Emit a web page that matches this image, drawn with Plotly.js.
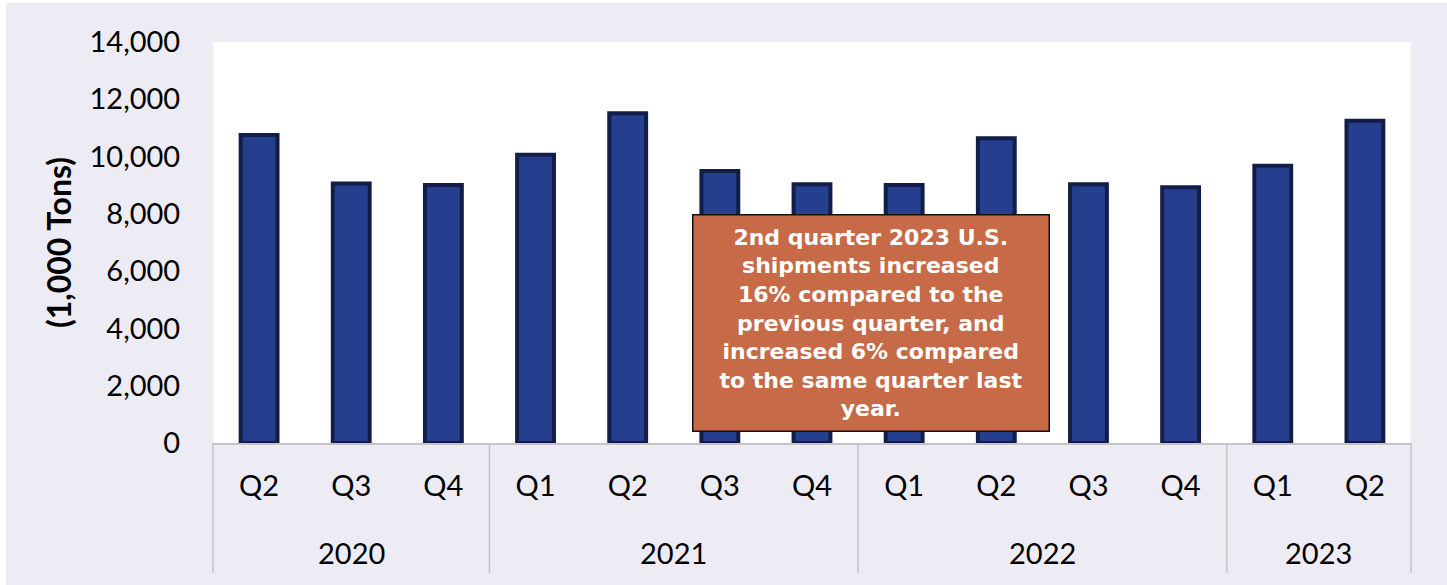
<!DOCTYPE html>
<html>
<head>
<meta charset="utf-8">
<script src="https://cdn.plot.ly/plotly-3.0.1.min.js"></script>
<style>
  html, body { margin: 0; padding: 0; background: #ffffff; }
  #chart { width: 1447px; height: 585px; }
</style>
</head>
<body>
<div id="chart"></div>
<script>
const years = ['2020','2020','2020','2021','2021','2021','2021','2022','2022','2022','2022','2023','2023'];
const quarters = ['Q2','Q3','Q4','Q1','Q2','Q3','Q4','Q1','Q2','Q3','Q4','Q1','Q2'];
const shipments = [10750, 9060, 9010, 10060, 11510, 9500, 9030, 9010, 10640, 9030, 8930, 9680, 11250];
const yTickVals = [0, 2000, 4000, 6000, 8000, 10000, 12000, 14000];
const yTickText = ['0','2,000','4,000','6,000','8,000','10,000','12,000','14,000'];
const noteText = '2nd quarter 2023 U.S.<br>shipments increased<br>16% compared to the<br>previous quarter, and<br>increased 6% compared<br>to the same quarter last<br>year.';

// positions and year groups derived from the category list
const n = years.length;
const idx = years.map((_, i) => i);
const groups = [];
years.forEach((y, i) => {
  if (!groups.length || groups[groups.length-1].year !== y) groups.push({year: y, start: i, end: i});
  else groups[groups.length-1].end = i;
});
const bounds = [0].concat(groups.map(g => (g.end + 1) / n));

const font = 'Lato, "Open Sans", sans-serif';
const shapes = [
  {type:'rect', xref:'paper', yref:'paper', x0:-0.19, x1:-0.1728, y0:-0.4, y1:1.12, fillcolor:'#ffffff', line:{width:0}, layer:'below'},
  {type:'rect', xref:'paper', yref:'paper', x0:-0.19, x1:1.05, y0:1.0973, y1:1.12, fillcolor:'#ffffff', line:{width:0}, layer:'below'}
];
bounds.forEach(b => shapes.push({
  type:'line', xref:'paper', yref:'paper', x0:b, x1:b, y0:0, y1:-0.324,
  line:{color:'#c4c4c4', width:1.5}
}));

const annotations = groups.map(g => ({
  xref:'x', yref:'paper', x:(g.start + g.end) / 2, y:-0.272,
  xanchor:'center', yanchor:'middle', showarrow:false, text:g.year,
  font:{size:29, family:font, color:'#000'}
}));
annotations.push({
  xref: 'paper', yref: 'paper', x: 0.5492, y: 0.2993,
  xanchor: 'center', yanchor: 'middle',
  text: noteText, showarrow: false, align: 'center',
  font: { size: 22, family: '"DejaVu Sans", sans-serif', weight: 'bold', color: '#ffffff' },
  bgcolor: '#c66a47', bordercolor: '#111111', borderwidth: 1.5, borderpad: 0,
  width: 355, height: 215
});

const trace = {
  type: 'bar',
  x: idx,
  y: shipments,
  marker: { color: '#253f8e', line: { color: '#121e48', width: 4 } },
  hoverinfo: 'y'
};

const layout = {
  width: 1447, height: 585,
  paper_bgcolor: '#edecf4',
  plot_bgcolor: '#ffffff',
  margin: { l: 213, r: 36, t: 42, b: 142, pad: 0 },
  bargap: 0.6,
  showlegend: false,
  font: { family: font, color: '#000000' },
  xaxis: {
    range: [-0.5, n - 0.5],
    tickvals: idx, ticktext: quarters,
    showline: true, linecolor: '#c4c4c4', linewidth: 1.5,
    ticks: 'outside', ticklen: 17, tickcolor: 'rgba(0,0,0,0)',
    tickfont: { size: 29, family: font, color: '#000' },
    showgrid: false, zeroline: false
  },
  yaxis: {
    range: [0, 14000],
    tickvals: yTickVals, ticktext: yTickText,
    tickfont: { size: 29, family: font, color: '#000' },
    ticks: 'outside', ticklen: 26, tickcolor: 'rgba(0,0,0,0)',
    showgrid: false, zeroline: false, showline: false,
    title: { text: '(1,000 Tons)', font: { size: 32, family: font, weight: 'bold', color: '#000' }, standoff: 8 }
  },
  shapes: shapes,
  annotations: annotations
};

Plotly.newPlot('chart', [trace], layout, { displayModeBar: false, staticPlot: true });
</script>
</body>
</html>
